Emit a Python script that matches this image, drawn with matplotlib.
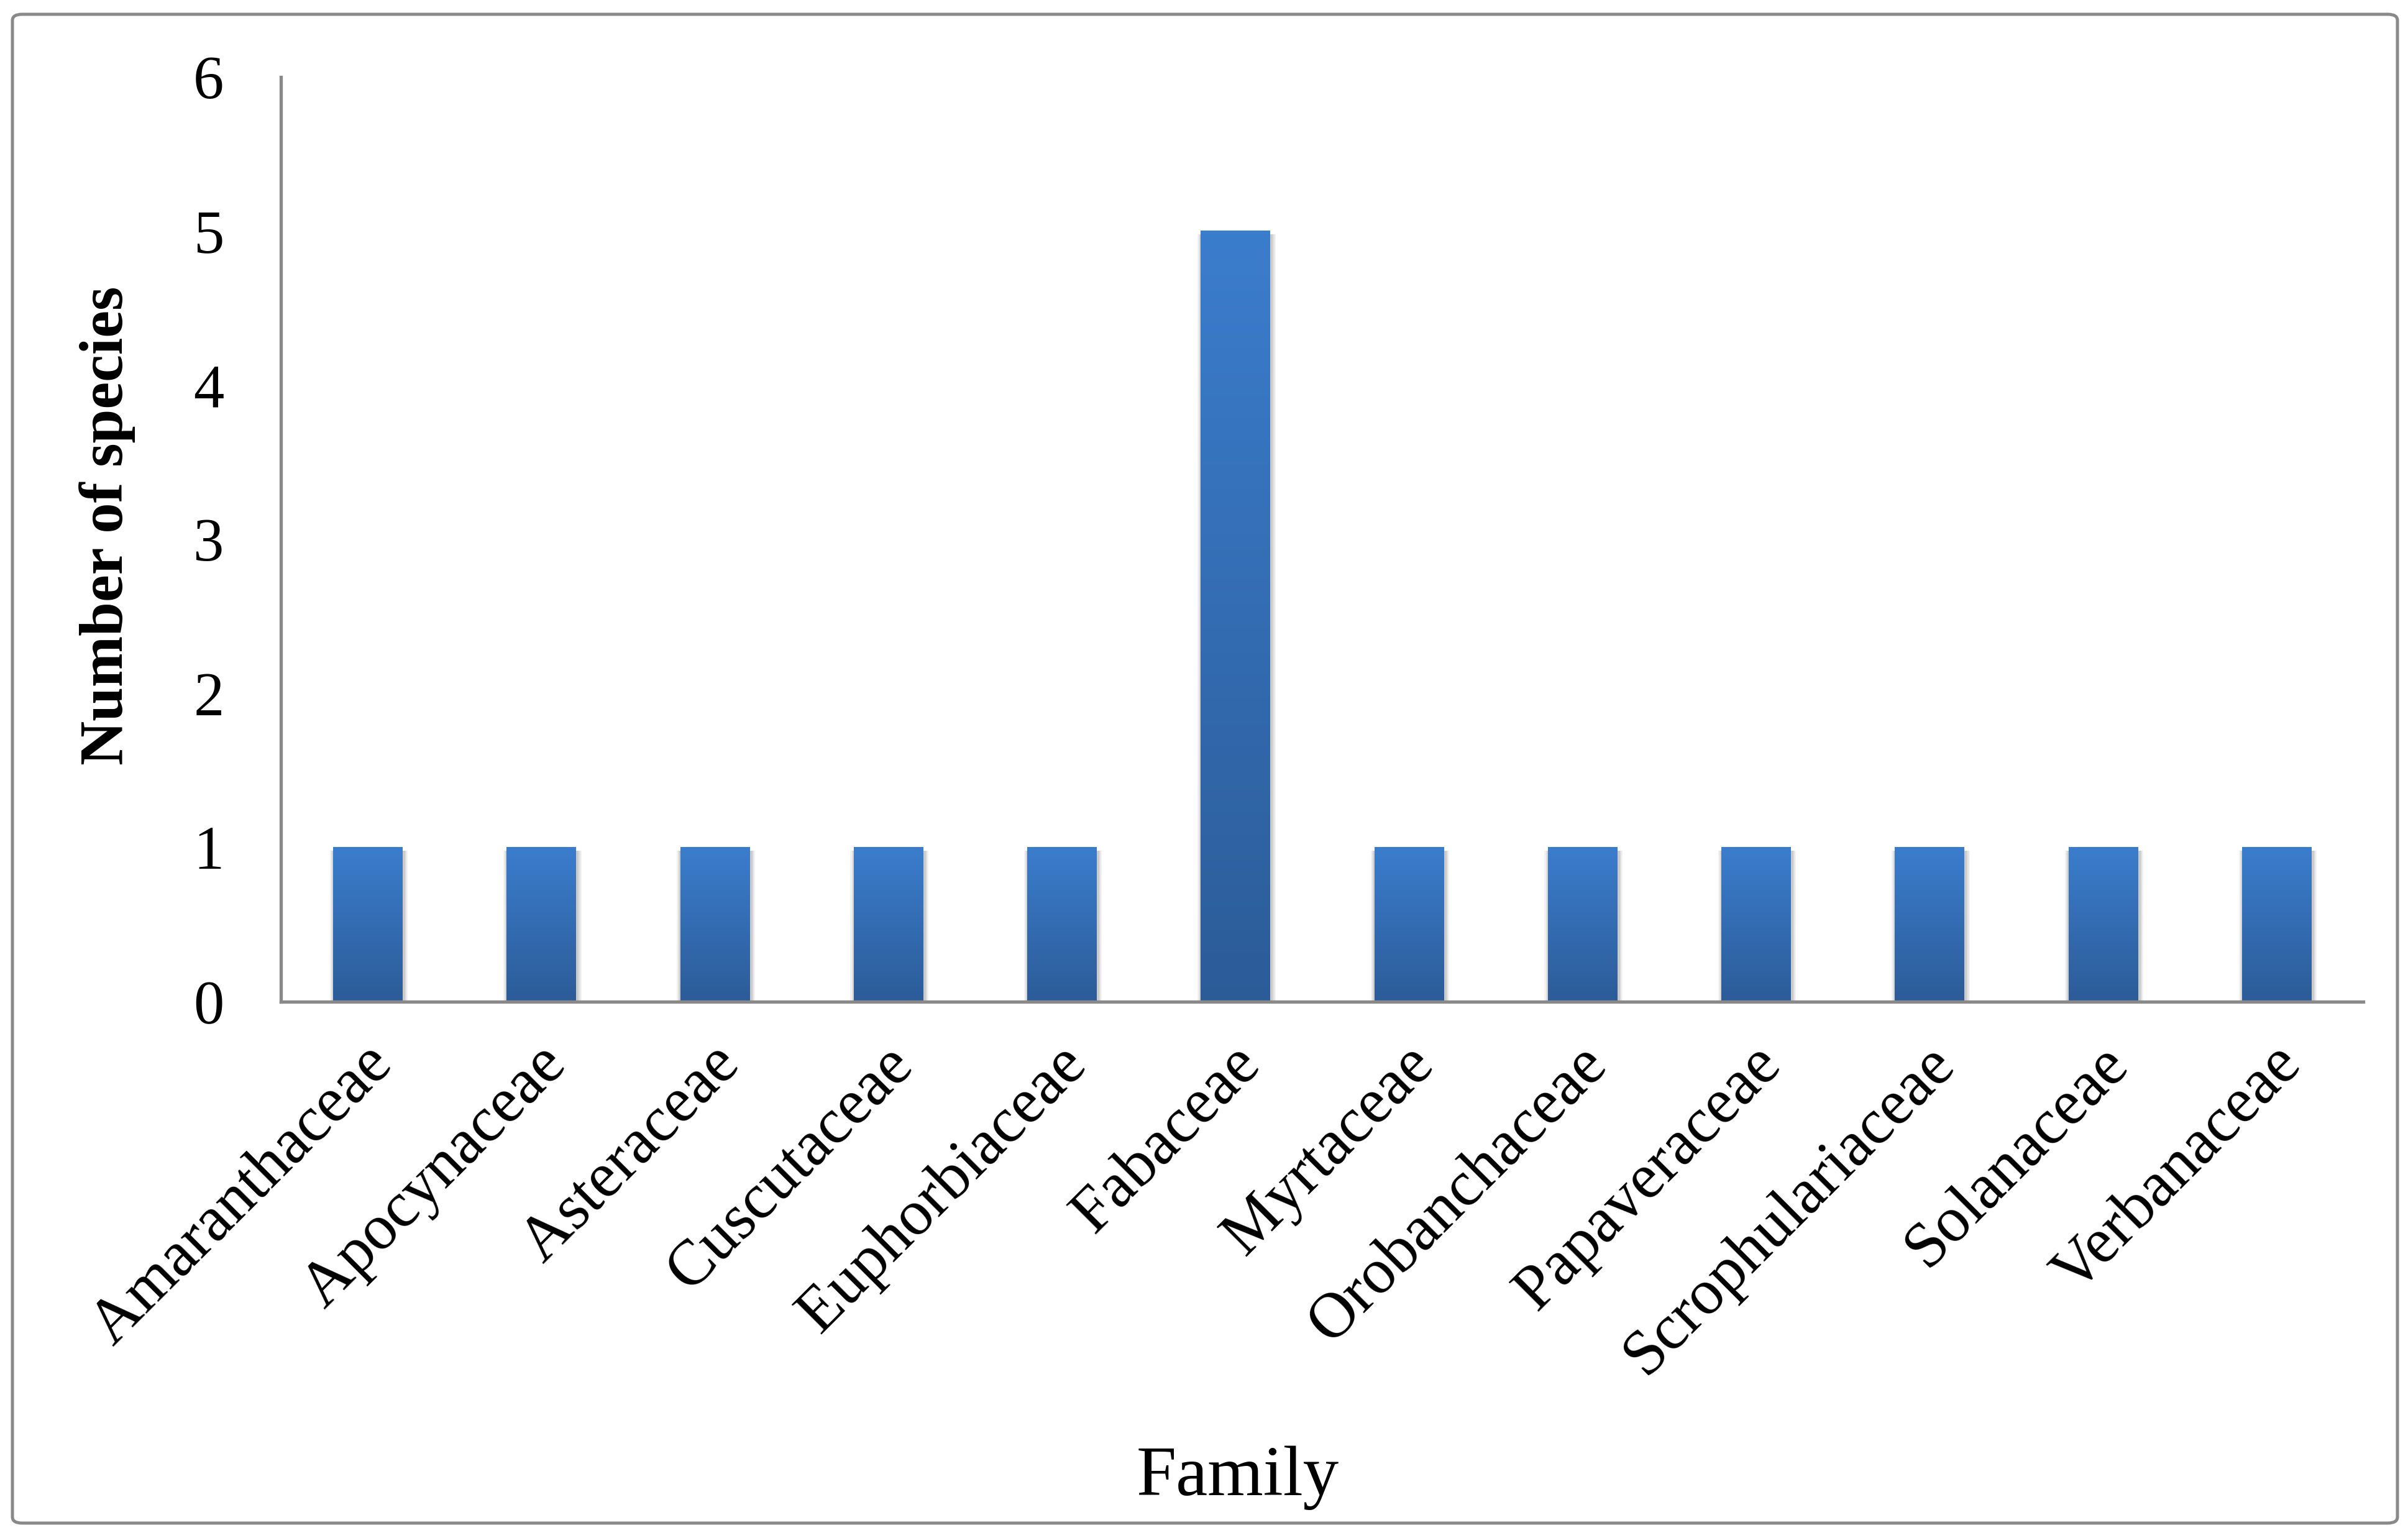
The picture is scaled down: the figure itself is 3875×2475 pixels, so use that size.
import numpy as np
import matplotlib
matplotlib.use("Agg")
import matplotlib.pyplot as plt
from matplotlib.patches import FancyBboxPatch
from matplotlib.colors import LinearSegmentedColormap
import matplotlib.transforms as mtransforms

families = ["Amaranthaceae", "Apocynaceae", "Asteraceae", "Cuscutaceae",
            "Euphorbiaceae", "Fabaceae", "Myrtaceae", "Orobanchaceae",
            "Papaveraceae", "Scrophulariaceae", "Solanaceae", "Verbanaceae"]
species = [1, 1, 1, 1, 1, 5, 1, 1, 1, 1, 1, 1]
yticks = [0, 1, 2, 3, 4, 5, 6]

plt.rcParams['font.family'] = ['Liberation Serif', 'DejaVu Serif']

fig = plt.figure(figsize=(38.75, 24.75), dpi=100)
ax = fig.add_axes([0.1167, 0.3487, 0.9815 - 0.1167, 0.950 - 0.3487])

x = np.arange(len(families))
w = 0.4

# soft shadow behind the bars
for k, a in zip([0.05, 0.035, 0.02], [0.05, 0.07, 0.09]):
    ax.bar(x + 0.006, species, width=w + k, bottom=-0.02,
           color="#000000", alpha=a, linewidth=0, zorder=1)

bars = ax.bar(x, species, width=w, color="none", linewidth=0, zorder=2)
cmap = LinearSegmentedColormap.from_list("blu", ["#2C5C98", "#3B7DCD"])
grad = np.linspace(0, 1, 256).reshape(-1, 1)
for b in bars:
    x0, y0 = b.get_x(), b.get_y()
    ax.imshow(grad, cmap=cmap, origin="lower", aspect="auto",
              extent=(x0, x0 + b.get_width(), y0, y0 + b.get_height()),
              zorder=3)

ax.set_xlim(-0.5, len(families) - 0.5)
ax.set_ylim(0, 6)
ax.set_yticks(yticks)
ax.set_yticklabels([str(t) for t in yticks], fontsize=71)
ax.tick_params(axis="y", length=0, pad=66)
ax.set_xticks(x)
ax.set_xticklabels(families, fontsize=74, rotation=45, ha="right",
                   va="center", rotation_mode="anchor")
ax.tick_params(axis="x", length=0, pad=62)
offset = mtransforms.ScaledTranslation(0.25, 0, fig.dpi_scale_trans)
for lab in ax.get_xticklabels():
    lab.set_transform(lab.get_transform() + offset)

for s in ["top", "right"]:
    ax.spines[s].set_visible(False)
for s in ["left", "bottom"]:
    ax.spines[s].set_color("#898989")
    ax.spines[s].set_linewidth(3.8)
    ax.spines[s].set_zorder(4)

fig.text(70 / 1568, 1 - 342 / 1001, "Number of species", rotation=90,
         ha="center", va="center", fontsize=71, fontweight="bold")
fig.text(806 / 1568, 1 - 962 / 1001, "Family", ha="center", va="center",
         fontsize=83)

border = FancyBboxPatch((20 / 3875, 24 / 2475), (3858 - 20) / 3875,
                        (2452 - 24) / 2475, boxstyle="round,pad=0,rounding_size=0.004",
                        transform=fig.transFigure, facecolor="none",
                        edgecolor="#898989", linewidth=3.6)
fig.patches.append(border)

fig.savefig("out.png", dpi=100)
